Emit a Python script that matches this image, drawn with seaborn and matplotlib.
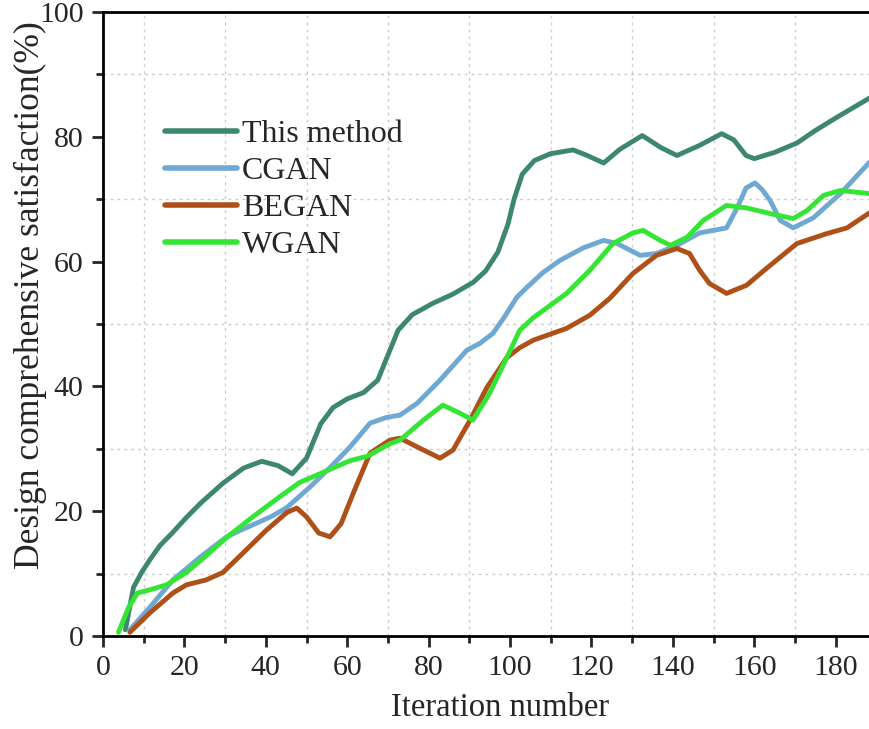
import numpy as np
import pandas as pd
import matplotlib
matplotlib.use("Agg")
import matplotlib.pyplot as plt
import seaborn as sns
from matplotlib.ticker import MultipleLocator

series_names = ["This method", "CGAN", "BEGAN", "WGAN"]

this_x = [5.5, 7.5, 9.5, 11.5, 14, 17, 20.5, 24, 29.5, 34.5, 39, 43, 46.5, 50, 53.5, 56.5, 60, 64, 67.5, 70, 72.5,
          76, 81, 86, 91, 94, 97, 99.5, 101, 103, 106, 110, 115.5, 119, 123, 127, 132.5, 137, 141,
          146.5, 152, 155, 158, 160, 165, 170.5, 175, 180, 188.3]
this_y = [1, 7.8, 10.2, 12.2, 14.5, 16.5, 19.0, 21.3, 24.5, 26.9, 28.0, 27.3, 26.0, 28.5, 34.0, 36.6, 38.0, 39.0, 41.0,
          45.0, 49.0, 51.5, 53.3, 54.8, 56.7, 58.5, 61.5, 66.0, 70.0, 74.0, 76.2, 77.3, 77.9, 77.0,
          75.8, 78.0, 80.2, 78.3, 77.0, 78.6, 80.5, 79.5, 77.0, 76.5, 77.5, 79.0, 81.0, 83.0, 86.2]

cgan_x = [6.6, 11.5, 17.2, 23.8, 30.4, 34, 37.8, 41.5, 45.2, 50.9, 55.8, 60.7, 65.6, 69.5, 73, 77.2,
          82.8, 89.4, 92.6, 95.8, 98.5, 101.7, 104.2, 108, 112.3, 118, 123, 126.3, 129, 132, 136, 141,
          146.6, 149.9, 153.2, 155.8, 158, 160.2, 162, 163.9, 166.4, 169.6, 174.5, 181.2, 188.3]
cgan_y = [1, 4.6, 9.0, 12.6, 15.9, 17.0, 18.1, 19.2, 20.6, 23.9, 27.0, 30.3, 34.1, 35.0, 35.4, 37.3,
          41.0, 45.8, 46.9, 48.5, 51.0, 54.3, 55.9, 58.2, 60.2, 62.2, 63.4, 62.9, 62.0, 61.0, 61.3,
          62.6, 64.6, 65.0, 65.4, 68.6, 71.8, 72.6, 71.5, 69.8, 66.6, 65.4, 67.0, 70.9, 75.9]

began_x = [6.6, 11.5, 17.2, 20.5, 25.4, 29.5, 34.4, 40.2, 45.2, 47.6, 50, 53, 55.8, 58.5, 61.5, 65.6,
           70.5, 73, 77.2, 82.8, 86, 90.2, 94.3, 99.2, 102.4, 105.7, 113.9, 119.6, 124.5, 130.2, 136,
           141, 144.1, 146.6, 149, 153.2, 158.1, 163, 170.5, 177.9, 182.8, 188.3]
began_y = [0.6, 3.7, 6.9, 8.2, 9.0, 10.2, 13.3, 17.0, 19.8, 20.5, 19.1, 16.5, 15.9, 18.0, 22.9, 29.3,
           31.4, 31.7, 30.3, 28.5, 29.8, 34.6, 39.8, 44.6, 46.2, 47.4, 49.3, 51.4, 54.1, 58.1, 61.0,
           62.1, 61.3, 58.6, 56.5, 54.9, 56.2, 58.9, 62.9, 64.5, 65.4, 67.8]

wgan_x = [3.8, 6.3, 8.5, 11.5, 15.6, 20.5, 25.4, 30.4, 36.8, 43.4, 48.3, 53.3, 60.7, 64.9, 70.5, 73,
          78.7, 83.5, 87.7, 90.9, 95, 99.2, 102.4, 105.7, 113.9, 119.6, 125.3, 130.2, 132.7, 136.9,
          139.4, 143.5, 147.5, 153.2, 158.1, 163.9, 169.6, 173, 177, 181.2, 188.3]
wgan_y = [0.6, 4.6, 6.9, 7.4, 8.2, 10.2, 12.9, 15.8, 19.1, 22.3, 24.6, 26.0, 28.1, 28.8, 30.8, 31.4,
          34.6, 37.0, 35.7, 34.6, 38.9, 44.6, 49.0, 51.0, 54.9, 58.6, 62.9, 64.6, 65.0, 63.4, 62.6,
          63.9, 66.6, 69.0, 68.6, 67.7, 66.9, 68.2, 70.6, 71.4, 70.9]

x_ticks = [0, 20, 40, 60, 80, 100, 120, 140, 160, 180]
y_ticks = [0, 20, 40, 60, 80, 100]

colors = ["#3e876f", "#6fa9d3", "#ae5018", "#35e535"]

frames = []
for name, xs, ys in zip(series_names, [this_x, cgan_x, began_x, wgan_x],
                        [this_y, cgan_y, began_y, wgan_y]):
    frames.append(pd.DataFrame({"Iteration": xs, "Satisfaction": ys, "Method": name}))
df = pd.concat(frames, ignore_index=True)

sns.set_style("white")
plt.rcParams["font.family"] = ["Liberation Serif", "DejaVu Serif"]

fig = plt.figure(figsize=(8.69, 7.29), dpi=100)
ax = fig.add_axes([103 / 869, (729 - 636) / 729, (869 - 103) / 869, 624 / 729])

sns.lineplot(data=df, x="Iteration", y="Satisfaction", hue="Method", hue_order=series_names,
             palette=colors, sort=False, estimator=None, linewidth=3.5, ax=ax)
for ln in ax.get_lines():
    ln.set_solid_joinstyle("round")
    ln.set_solid_capstyle("round")

ax.set_xlim(0, (869 - 103) / 4.07)
ax.set_ylim(0, 100)
ax.set_xticks(x_ticks)
ax.set_yticks(y_ticks)
ax.xaxis.set_minor_locator(MultipleLocator(10))
ax.yaxis.set_minor_locator(MultipleLocator(10))
ax.tick_params(axis="both", which="major", direction="out", length=8, width=2,
               labelsize=21.5, pad=6, bottom=True, left=True)
ax.tick_params(axis="both", which="minor", direction="out", length=5, width=2,
               bottom=True, left=True)
ax.grid(False)
ax.grid(True, which="minor", linestyle=(0, (2, 3)), color="#cccccc", linewidth=1)
ax.set_axisbelow(True)

for s in ["left", "bottom", "top"]:
    ax.spines[s].set_visible(True)
    ax.spines[s].set_linewidth(2)
    ax.spines[s].set_color("black")
ax.spines["right"].set_visible(False)

ax.set_xlabel("Iteration number", fontsize=23.5)
ax.set_ylabel("Design comprehensive satisfaction(%)", fontsize=25.6)
ax.xaxis.label.set_va("center")
ax.yaxis.label.set_va("center")
ax.xaxis.set_label_coords((500 - 103) / 766, (636 - 708) / 624)
ax.yaxis.set_label_coords((30 - 103) / 766, (636 - 295) / 624)

leg = ax.legend(loc="upper left", bbox_to_anchor=(62 / 766, 1 - (120 - 12) / 624), frameon=False,
                fontsize=23, handlelength=2.25, handletextpad=0.16, labelspacing=0.24,
                borderaxespad=0, borderpad=0)
for line in leg.get_lines():
    line.set_linewidth(4)

fig.savefig("out.png", dpi=100)
